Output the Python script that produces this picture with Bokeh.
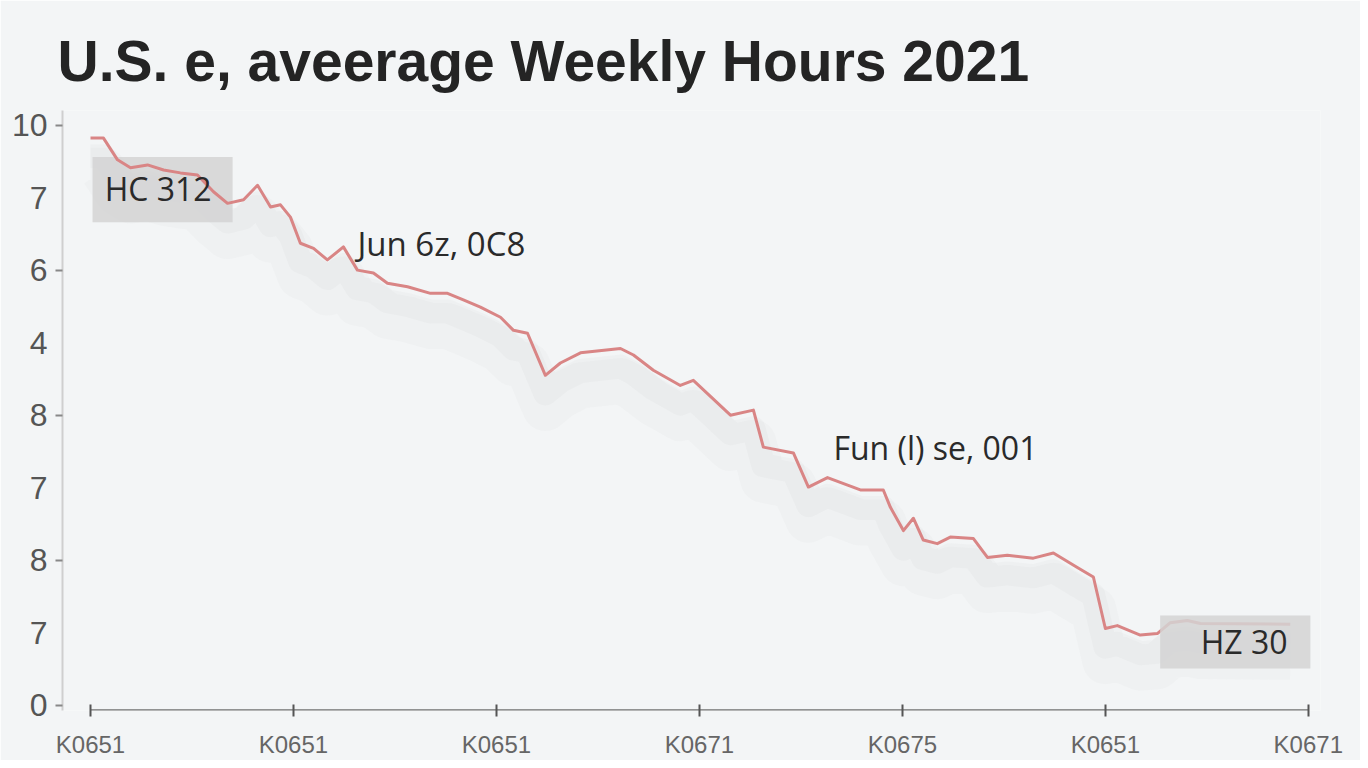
from bokeh.plotting import figure
from bokeh.models import Range1d, FixedTicker, Label
from bokeh.core.properties import value
from bokeh.embed import file_html
from bokeh.resources import INLINE

# ---- data ----
x_vals = [0.0, 0.064, 0.133, 0.197, 0.281, 0.360, 0.443, 0.527, 0.606, 0.675,
          0.754, 0.823, 0.887, 0.936, 0.985, 1.034, 1.099, 1.167, 1.246, 1.315,
          1.394, 1.463, 1.562, 1.675, 1.759, 1.837, 1.921, 2.020, 2.084, 2.153,
          2.241, 2.315, 2.414, 2.611, 2.675, 2.773, 2.906, 2.970, 3.153, 3.266,
          3.315, 3.463, 3.537, 3.631, 3.793, 3.906, 3.941, 4.005, 4.054, 4.103,
          4.172, 4.236, 4.350, 4.419, 4.517, 4.645, 4.744, 4.862, 4.941, 5.000,
          5.059, 5.172, 5.256, 5.320, 5.404, 5.468, 5.911]
y_vals = [7.82, 7.82, 7.52, 7.41, 7.45, 7.38, 7.34, 7.31, 7.08, 6.92,
          6.97, 7.17, 6.87, 6.90, 6.73, 6.37, 6.30, 6.14, 6.32, 6.00,
          5.96, 5.82, 5.77, 5.68, 5.68, 5.59, 5.49, 5.35, 5.17, 5.13,
          4.55, 4.72, 4.86, 4.92, 4.83, 4.62, 4.41, 4.48, 4.00, 4.07,
          3.56, 3.48, 3.01, 3.14, 2.97, 2.97, 2.73, 2.41, 2.58, 2.28,
          2.23, 2.32, 2.30, 2.04, 2.07, 2.03, 2.10, 1.90, 1.77, 1.06,
          1.10, 0.97, 0.99, 1.14, 1.17, 1.13, 1.12]

x_ticks = [0, 1, 2, 3, 4, 5, 6]
x_tick_labels = ["K0651", "K0651", "K0651", "K0671", "K0675", "K0651", "K0671"]
y_ticks = [0, 1, 2, 3, 4, 5, 6, 7, 8]
y_tick_labels = ["0", "7", "8", "7", "8", "4", "6", "7", "10"]
y_tick_marks = [0, 2, 4, 6, 8]

title_text = "U.S. e, aveerage Weekly Hours 2021"
annotations = ["HC 312", "Jun 6z, 0C8", "Fun (l) se, 001", "HZ 30"]

BG = "#f3f5f6"
LINE = "#d98585"

p = figure(width=1360, height=760, output_backend="svg", toolbar_location=None,
           x_range=Range1d(-0.138, 6.06), y_range=Range1d(-0.07, 8.2),
           min_border_left=62, min_border_right=40, min_border_bottom=50,
           min_border_top=110, background_fill_color=BG, border_fill_color=BG,
           outline_line_color=None)
p.grid.visible = False

p.title.text = title_text
p.title.text_font = "Liberation Sans"
p.title.text_font_size = "57px"
p.title.text_font_style = "bold"
p.title.text_color = "#242424"
p.title.standoff = 35
p.title.offset = -5

# axes
xa = p.xaxis[0]
xa.ticker = FixedTicker(ticks=x_ticks)
xa.major_label_overrides = {t: l for t, l in zip(x_ticks, x_tick_labels)}
xa.axis_line_color = None
xa.major_tick_in = 6
xa.major_tick_out = 6
xa.major_tick_line_color = "#555555"
xa.major_tick_line_width = 2
xa.minor_tick_line_color = None
xa.major_label_standoff = 14
xa.major_label_text_font = "Liberation Sans"
xa.major_label_text_font_size = "24px"
xa.major_label_text_color = "#666666"

ya = p.yaxis[0]
ya.ticker = FixedTicker(ticks=y_ticks, minor_ticks=y_tick_marks)
ya.major_label_overrides = {t: l for t, l in zip(y_ticks, y_tick_labels)}
ya.axis_line_color = "#cfcfcf"
ya.axis_line_width = 2
ya.major_tick_line_color = None
ya.major_tick_out = 7
ya.major_tick_in = 0
ya.minor_tick_line_color = "#888888"
ya.minor_tick_line_width = 2
ya.minor_tick_out = 7
ya.minor_tick_in = 0
ya.major_label_standoff = 8
ya.major_label_text_font = "Liberation Sans"
ya.major_label_text_font_size = "32px"
ya.major_label_text_color = "#555555"

# x axis line (from first to last tick)
p.segment(x0=[x_ticks[0]], y0=[-0.07], x1=[x_ticks[-1]], y1=[-0.07],
          line_color="#707070", line_width=2.5)

# soft shadow under the line
sh1 = [v - 0.45 for v in y_vals]
sh2 = [v - 0.25 for v in y_vals]
p.line(x_vals, sh1, line_color="#9a9a9a", line_alpha=0.045, line_width=46, line_join="round")
p.line(x_vals, sh2, line_color="#9a9a9a", line_alpha=0.05, line_width=24, line_join="round")

# HC box (under line)
p.quad(left=[0.01], right=[0.70], top=[7.56], bottom=[6.66],
       fill_color="#d3d3d3", fill_alpha=0.85, line_color=None)

p.line(x_vals, y_vals, line_color=LINE, line_width=3, line_join="round")

# HZ box (over line)
p.quad(left=[5.27], right=[6.01], top=[1.24], bottom=[0.51],
       fill_color="#d3d3d3", fill_alpha=0.85, line_color=None)

ann_x = [0.07, 1.315, 3.66, 5.47]
ann_y = [7.12, 6.36, 3.56, 0.88]
ann_size = ["32px", "33px", "32px", "32px"]
p.text(x=ann_x, y=ann_y, text=annotations, text_font=value("Open Sans"),
       text_font_size=ann_size, text_color="#2a2a2a", text_baseline="middle",
       text_align="left")

p.add_layout(Label(x=5.48, y=-0.55, text="AI Generated", text_font="Liberation Sans",
                   text_font_size="22px", text_color="#9a9a9a",
                   text_baseline="middle", text_align="left"))

open("out.html", "w").write(file_html(p, INLINE))
